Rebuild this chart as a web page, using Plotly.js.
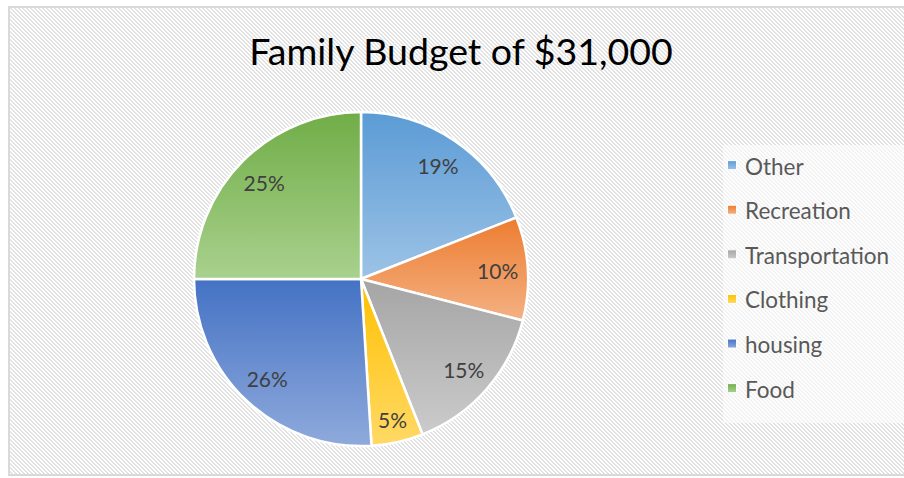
<!DOCTYPE html>
<html>
<head>
<meta charset="utf-8">
<script src="https://cdn.plot.ly/plotly-3.0.1.min.js"></script>
<style>
  html, body { margin: 0; padding: 0; background: #ffffff; }
  #wrap { position: relative; width: 904px; height: 478px; overflow: hidden; background: #ffffff; }
  #hatch {
    position: absolute; left: 8px; top: 6px; width: 896px; height: 470px;
    box-sizing: border-box;
    border-left: 2px solid #d9d9d9; border-top: 2px solid #d9d9d9; border-bottom: 2px solid #d9d9d9;
    background-image: url("data:image/svg+xml,%3Csvg xmlns='http://www.w3.org/2000/svg' width='4' height='4' shape-rendering='crispEdges'%3E%3Cpath d='M0 0h2v1H0zM1 1h2v1H1zM2 2h2v1H2zM3 3h1v1H3zM0 3h1v1H0z' fill='%23e2e2e2'/%3E%3C/svg%3E");
  }
  #chart { position: absolute; left: 0; top: 0; width: 904px; height: 478px; }
</style>
</head>
<body>
<div id="wrap">
  <div id="hatch"></div>
  <div id="chart"></div>
</div>
<script>
// ---- data ----
const categories = ["Other", "Recreation", "Transportation", "Clothing", "housing", "Food"];
const percentValues = [19, 10, 15, 5, 26, 25];
const chartTitle = "Family Budget of $31,000";

// ---- styles ----
const topColors    = ["#5B9BD5", "#ED7D31", "#A5A5A5", "#FFC000", "#4472C4", "#70AD47"];
const bottomColors = ["#9DC3E6", "#F4B183", "#CBCBCB", "#FFD966", "#8FAADC", "#A9D18E"];
const midColors    = ["#7CB0E0", "#F19A64", "#B8B8B8", "#FFCC3A", "#6A8ED0", "#8DBF6A"];

const FONT = "Lato, 'Open Sans', sans-serif";
const legendLabels = categories.map(c => '<span style="font-size:22.5px">' + c + '</span>');
const pieDomain = { x: [0.2146, 0.5841], y: [0.0669, 0.7657] };

// main pie (colours, legend)
const pieTrace = {
  type: "pie",
  labels: legendLabels,
  values: percentValues,
  sort: false,
  direction: "clockwise",
  rotation: 0,
  marker: { colors: midColors, line: { color: "#ffffff", width: 2.5 } },
  textinfo: "none",
  hoverinfo: "none",
  domain: pieDomain
};

// transparent ring that carries the percentage labels toward the rim
const labelTrace = {
  type: "pie",
  labels: categories,
  values: percentValues,
  sort: false,
  direction: "clockwise",
  rotation: 0,
  hole: 0.64,
  showlegend: false,
  marker: { colors: categories.map(() => "rgba(0,0,0,0)"), line: { width: 0 } },
  textinfo: "percent",
  texttemplate: "%{percent:.0%}",
  textposition: "inside",
  insidetextorientation: "horizontal",
  insidetextfont: { family: FONT, size: 21, color: "#404040" },
  hoverinfo: "none",
  domain: pieDomain
};

const layout = {
  width: 904, height: 478,
  margin: { l: 0, r: 0, t: 0, b: 0, autoexpand: false },
  paper_bgcolor: "rgba(0,0,0,0)",
  plot_bgcolor: "rgba(0,0,0,0)",
  font: { family: FONT, color: "#595959" },
  title: {
    text: chartTitle,
    font: { family: FONT, size: 37.5, color: "#000000" },
    x: 0.51, xanchor: "center", y: 0.891, yanchor: "middle"
  },
  showlegend: true,
  legend: {
    x: 0.7998, xanchor: "left", y: 0.7116, yanchor: "top",
    bgcolor: "rgba(255,255,255,0.55)",
    font: { family: FONT, size: 32, color: "#595959" },
    traceorder: "normal",
    itemclick: false
  }
};

Plotly.newPlot("chart", [pieTrace, labelTrace], layout, { staticPlot: true, displayModeBar: false, responsive: false }).then(gd => {
  const svgNS = "http://www.w3.org/2000/svg";
  const mainSvg = gd.querySelector("svg.main-svg");
  let defs = mainSvg.querySelector("defs");
  if (!defs) { defs = document.createElementNS(svgNS, "defs"); mainSvg.insertBefore(defs, mainSvg.firstChild); }
  categories.forEach((c, i) => {
    const g = document.createElementNS(svgNS, "linearGradient");
    g.setAttribute("id", "sliceGrad" + i);
    g.setAttribute("x1", "0"); g.setAttribute("y1", "0");
    g.setAttribute("x2", "0"); g.setAttribute("y2", "1");
    const s1 = document.createElementNS(svgNS, "stop");
    s1.setAttribute("offset", "0"); s1.setAttribute("stop-color", topColors[i]);
    const s2 = document.createElementNS(svgNS, "stop");
    s2.setAttribute("offset", "1"); s2.setAttribute("stop-color", bottomColors[i]);
    g.appendChild(s1); g.appendChild(s2);
    defs.appendChild(g);
  });
  const traces = gd.querySelectorAll("g.pielayer g.trace");
  traces[0].querySelectorAll("g.slice path.surface").forEach((p, i) => {
    p.style.fill = "url(#sliceGrad" + i + ")";
  });
  // legend box kept where the reference has it while entries sit a bit higher
  const bg = gd.querySelector("g.legend rect.bg");
  if (bg) {
    const y0 = parseFloat(bg.getAttribute("y") || "0");
    bg.setAttribute("y", y0 + 7);
  }
  gd.querySelectorAll("g.legend g.traces").forEach((item, i) => {
    const sym = item.querySelector("path.legendpie");
    if (sym) {
      sym.style.fill = "url(#sliceGrad" + i + ")";
      sym.style.strokeWidth = "1.3px";
      sym.setAttribute("transform", "translate(9,0) scale(0.75)");
    }
    const txt = item.querySelector("text.legendtext");
    if (txt) txt.setAttribute("transform", "translate(-18,-3)");
  });
});
</script>
</body>
</html>
